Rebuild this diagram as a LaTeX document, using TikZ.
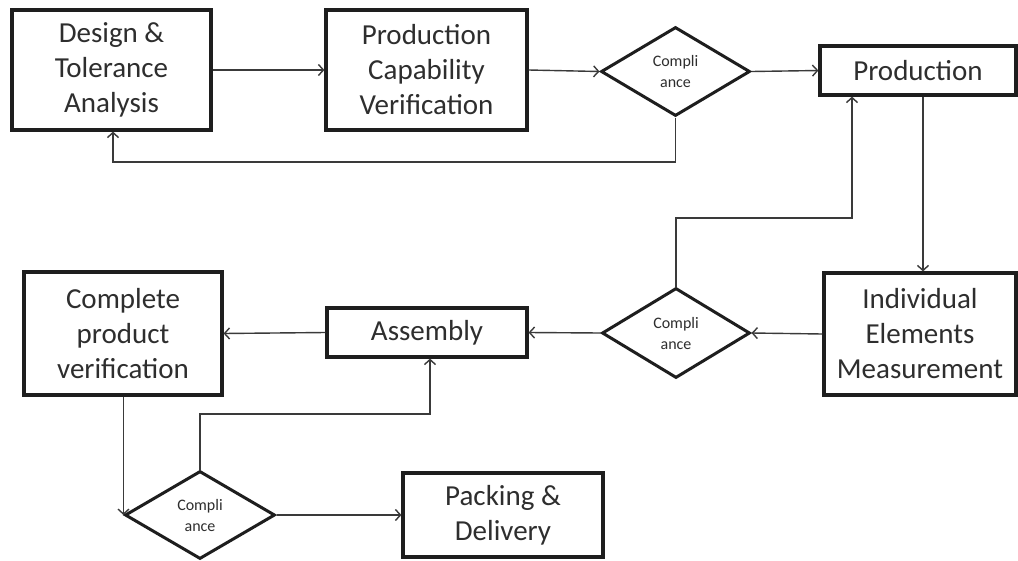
\documentclass[tikz,border=0pt]{standalone}
\usepackage{fontspec}
\setmainfont{Carlito}
\usetikzlibrary{shapes.geometric,arrows.meta,calc}
\definecolor{boxline}{HTML}{1E1E1E}
\definecolor{txt}{HTML}{2E2E2E}
\definecolor{conn}{HTML}{3A3A3A}
\begin{document}
\begin{tikzpicture}[x=1pt,y=-1pt,
  procbox/.style={draw=boxline,line width=3.2pt,rectangle,inner sep=0pt,
    text=txt,align=center,font=\fontsize{29}{35}\selectfont},
  decide/.style={draw=boxline,line width=3pt,diamond,inner sep=0pt,
    minimum width=149pt,minimum height=89pt,text=txt,align=center,
    font=\fontsize{16}{21}\selectfont},
  flow/.style={draw=conn,line width=1.4pt,-{Straight Barb[length=5pt,width=11pt]}}]
\useasboundingbox[fill=white] (0,0) rectangle (1018,560);

\node[procbox,minimum width=199pt,minimum height=120pt] (design) at (111.5,70) {Design \&\\Tolerance\\Analysis};
\node[procbox,minimum width=201pt,minimum height=120pt] (pcv) at (426.5,70) {Production\\Capability\\Verification};
\node[decide] (d1) at (675.5,71.5) {Compli\\ance};
\node[procbox,minimum width=196pt,minimum height=49pt] (prod) at (918,70.5) {Production};
\node[procbox,minimum width=192pt,minimum height=122pt] (ind) at (920,334) {Individual\\Elements\\Measurement};
\node[decide,minimum width=148pt,minimum height=90pt] (d2) at (676,333) {Compli\\ance};
\node[procbox,minimum width=200pt,minimum height=49pt] (asm) at (427,332.5) {Assembly};
\node[procbox,minimum width=198pt,minimum height=123pt] (comp) at (123,333.5) {Complete\\product\\verification};
\node[decide,minimum width=150pt,minimum height=88pt] (d3) at (200,515) {Compli\\ance};
\node[procbox,minimum width=200pt,minimum height=84pt] (pack) at (503,515) {Packing \&\\Delivery};

\coordinate (fb1) at (113,162);
\coordinate (pd) at (923,0);
\coordinate (fb2) at (852,218);
\coordinate (fb3) at (430,414);

\draw[flow] (design.east) -- (pcv.west);
\draw[flow] (pcv.east) -- (d1.west);
\draw[flow] (d1.east) -- (prod.west);
\draw[flow] (d1.south) |- (fb1) -- (design.south -| fb1);
\draw[flow] (prod.south -| pd) -- (ind.north -| pd);
\draw[flow] (ind.west) -- (d2.east);
\draw[flow] (d2.west) -- (asm.east);
\draw[flow] (d2.north) |- (fb2) -- (prod.south -| fb2);
\draw[flow] (asm.west) -- (comp.east);
\draw[flow] (comp.south -| d3.west) -- (d3.west);
\draw[flow] (d3.east) -- (pack.west);
\draw[flow] (d3.north) |- (fb3) -- (asm.south -| fb3);
\end{tikzpicture}
\end{document}
